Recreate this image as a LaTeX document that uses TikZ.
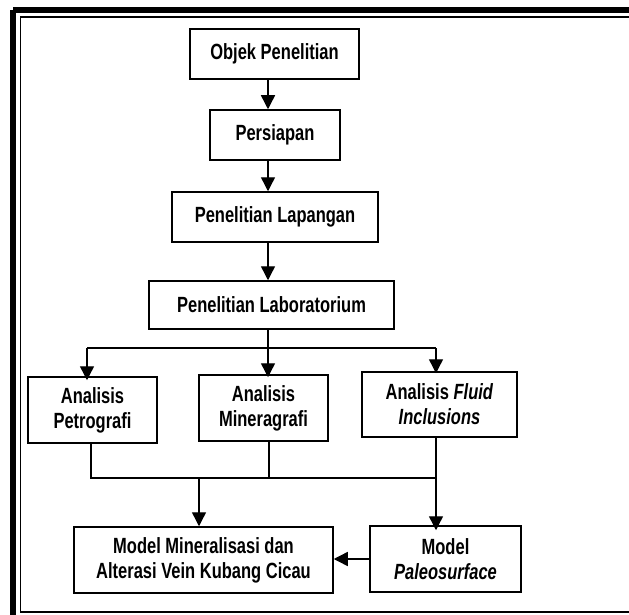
\documentclass[tikz,border=0pt]{standalone}
\usepackage{fontspec}
\setmainfont{Liberation Sans}[FakeStretch=0.75]
\usetikzlibrary{arrows.meta}
\begin{document}
\begin{tikzpicture}[x=1pt,y=-1pt,
  box/.style={draw,line width=1.5pt,rectangle,inner sep=0pt,align=center,
    font=\fontsize{22}{25}\selectfont\bfseries},
  arr/.style={line width=1.4pt,-{Triangle[width=14pt,length=14pt]}},
  ln/.style={line width=1.4pt}]
\clip (0,0) rectangle (629,615);
\fill[white] (0,0) rectangle (629,615);
% frame
\draw[line width=6pt] (13,10) -- (660,10);
\draw[line width=6pt] (13,10) -- (13,640);
\draw[line width=1.3pt] (20.5,17) rectangle (650,612);
% nodes
\node[box,minimum width=169pt,minimum height=50pt] (obj) at (274.5,54) {Objek Penelitian};
\node[box,minimum width=130pt,minimum height=50pt] (pers) at (275,135) {Persiapan};
\node[box,minimum width=206pt,minimum height=50pt] (lap) at (275,217) {Penelitian Lapangan};
\node[box,minimum width=245pt,minimum height=48pt] (lab) at (271.5,305) {Penelitian Laboratorium};
\node[box,minimum width=129pt,minimum height=66pt] (pet) at (92.5,410) {Analisis\\Petrografi};
\node[box,minimum width=129pt,minimum height=66pt] (min) at (263.5,408) {Analisis\\Mineragrafi};
\node[box,minimum width=155pt,minimum height=65pt] (flu) at (439.5,404.5) {Analisis \textit{Fluid}\\\textit{Inclusions}};
\node[box,minimum width=259pt,minimum height=66pt] (mod) at (203.5,560) {Model Mineralisasi dan\\Alterasi Vein Kubang Cicau};
\node[box,minimum width=151pt,minimum height=66pt] (pal) at (445.5,559) {Model\\\textit{Paleosurface}};
% helper coordinates
\coordinate (c) at (268,0);
\coordinate (bl) at (87,348);
\coordinate (bm) at (268,348);
\coordinate (br) at (436,348);
\coordinate (jl) at (91,478);
\coordinate (jm) at (269,478);
\coordinate (jr) at (436,478);
\coordinate (jd) at (199,478);
% connectors
\draw[arr] (obj.south -| c) -- (pers.north -| c);
\draw[arr] (pers.south -| c) -- (lap.north -| c);
\draw[arr] (lap.south -| c) -- (lab.north -| c);
\draw[ln] (lab.south -| bm) -- (bm);
\draw[ln] (bl) -- (br);
\draw[arr] (bl) -- ([yshift=-4pt]pet.north -| bl);
\draw[arr] (bm) -- ([yshift=-3pt]min.north -| bm);
\draw[arr] (br) -- ([yshift=-2pt]flu.north -| br);
\draw[ln] (pet.south -| jl) -- (jl) -- (jr);
\draw[ln] (min.south -| jm) -- (jm);
\draw[arr] (flu.south -| jr) -- ([yshift=-5pt]pal.north -| jr);
\draw[arr] (jd) -- (mod.north -| jd);
\draw[arr] (pal.west) -- (mod.east |- pal.west);
\end{tikzpicture}
\end{document}
